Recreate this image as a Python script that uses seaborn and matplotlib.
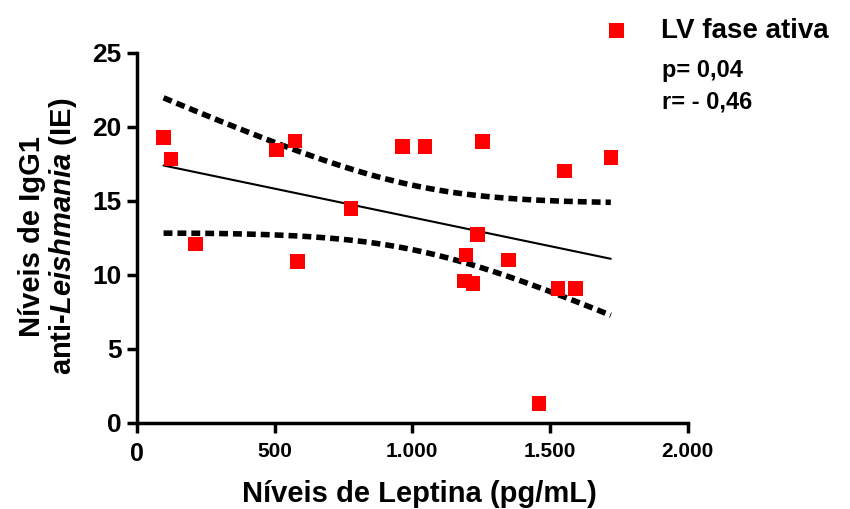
import numpy as np
import pandas as pd
import seaborn as sns
import matplotlib.pyplot as plt

# leptin (pg/mL) vs anti-Leishmania IgG1 (IE), LV active phase
leptina = [97, 124, 212, 507, 574, 584, 777, 965, 1046, 1255,
           1552, 1721, 1237, 1195, 1350, 1189, 1221, 1530, 1592, 1461]
igg1 = [19.28, 17.84, 12.09, 18.45, 19.05, 10.9, 14.5, 18.67, 18.67, 19.0,
        17.03, 17.93, 12.75, 11.35, 11.0, 9.6, 9.44, 9.1, 9.1, 1.33]
x_ticks = [0, 500, 1000, 1500, 2000]
x_ticklabels = ['0', '500', '1.000', '1.500', '2.000']
y_ticks = [0, 5, 10, 15, 20, 25]

sns.set_style('ticks')
plt.rcParams['font.family'] = ['Liberation Sans', 'DejaVu Sans']
plt.rcParams['mathtext.fontset'] = 'custom'
plt.rcParams['mathtext.it'] = 'Liberation Sans:italic:bold'
plt.rcParams['mathtext.rm'] = 'Liberation Sans:bold'
for k in ['text.color', 'axes.labelcolor', 'xtick.color', 'ytick.color', 'axes.edgecolor']:
    plt.rcParams[k] = 'black'

df = pd.DataFrame({'x': leptina, 'y': igg1})

# linear fit + 95% confidence band of the mean
x = df['x'].values
y = df['y'].values
n = len(x)
slope, intercept = np.polyfit(x, y, 1)
xs = np.linspace(x.min(), x.max(), 100)
yhat = intercept + slope * xs
resid = y - (intercept + slope * x)
s = np.sqrt(np.sum(resid**2) / (n - 2))
t = 2.101  # t(0.975, 18)
se = s * np.sqrt(1/n + (xs - x.mean())**2 / np.sum((x - x.mean())**2))
fit = pd.DataFrame({'x': xs, 'fit': yhat, 'lo': yhat - t*se, 'hi': yhat + t*se})

fig = plt.figure(figsize=(8.5, 5.09), dpi=100)
ax = fig.add_axes([0.161, 0.169, 0.648, 0.727])

sns.lineplot(data=fit, x='x', y='fit', color='black', lw=1.5, ax=ax)
for col in ['lo', 'hi']:
    sns.lineplot(data=fit, x='x', y=col, color='black', lw=4,
                 linestyle=(0, (1.6, 0.9)), ax=ax)
sns.scatterplot(data=df, x='x', y='y', marker='s', s=110, color='#ff0000',
                edgecolor='none', ax=ax, zorder=5, clip_on=False,
                label='LV fase ativa')

ax.set_xlim(0, 2000)
ax.set_ylim(0, 25)
ax.set_xticks(x_ticks)
ax.set_xticklabels(x_ticklabels, fontsize=15, fontweight='bold')
ax.get_xticklabels()[0].set_fontsize(18)
ax.set_yticks(y_ticks)
ax.set_yticklabels([str(v) for v in y_ticks], fontsize=19, fontweight='bold')
ax.tick_params(axis='both', width=2.5, length=7)
ax.tick_params(axis='x', pad=7)
ax.tick_params(axis='y', pad=4)
for side in ['left', 'bottom']:
    ax.spines[side].set_linewidth(2.5)
sns.despine(ax=ax)

ax.set_xlabel('')
ax.set_ylabel('')
fig.text(0.4935, 0.03, 'Níveis de Leptina (pg/mL)', fontsize=21,
         fontweight='bold', ha='center', va='center')
fig.text(0.038, 0.535, 'Níveis de IgG1', rotation=90, fontsize=21,
         fontweight='bold', ha='center', va='center')
fig.text(0.074, 0.535, r'anti-$\it{Leishmania}$ (IE)', rotation=90, fontsize=21,
         fontweight='bold', ha='center', va='center')

ax.legend_.remove()
handles, labels = ax.get_legend_handles_labels()
fig.legend(handles, labels, loc='center left', bbox_to_anchor=(0.709, 0.94),
           frameon=False, prop={'size': 20, 'weight': 'bold'},
           handlelength=1.0, handletextpad=1.1, borderpad=0, borderaxespad=0)
fig.text(0.779, 0.862, 'p= 0,04', fontsize=17, fontweight='bold', va='center')
fig.text(0.779, 0.799, 'r= - 0,46', fontsize=17, fontweight='bold', va='center')

fig.savefig('out.png', dpi=100)
